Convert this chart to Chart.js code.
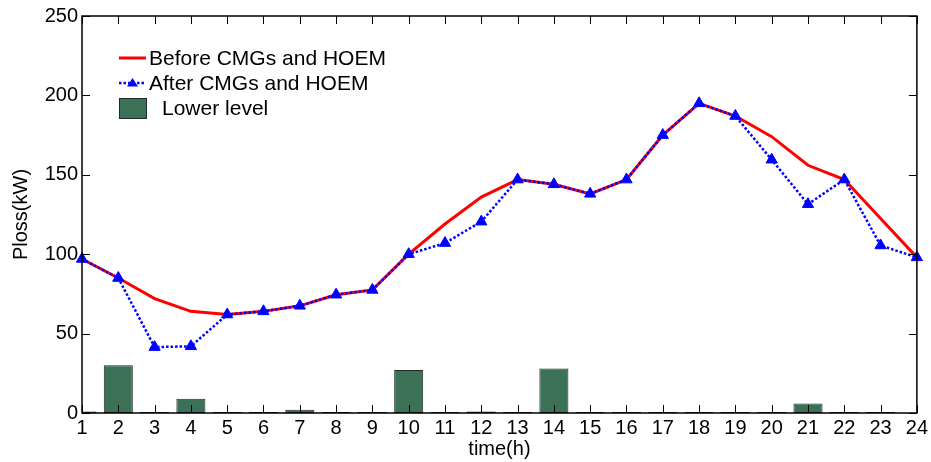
<!DOCTYPE html>
<html>
<head>
<meta charset="utf-8">
<script src="https://cdn.jsdelivr.net/npm/chart.js@4.4.1/dist/chart.umd.min.js"></script>
<style>
  html, body { margin: 0; padding: 0; background: #fff; }
  #wrap { width: 931px; height: 462px; }
</style>
</head>
<body>
<div id="wrap"><canvas id="loss-chart"></canvas></div>
<script>
var hours = ['1', '2', '3', '4', '5', '6', '7', '8', '9', '10', '11', '12', '13', '14', '15', '16', '17', '18', '19', '20', '21', '22', '23', '24'];
var beforeLoss = [97, 85, 72, 64, 62, 64, 67.5, 74.5, 77.5, 100, 119, 136, 147, 144, 138, 147, 175, 195, 187, 174, 156, 147, 122.5, 98];
var afterLoss = [97, 85, 41.5, 42, 62, 64, 67.5, 74.5, 77.5, 100, 107, 120.5, 147, 144, 138, 147, 175, 195, 187, 159.5, 131.5, 147, 105.5, 98];
var lowerLevel = [1, 30, 0.6, 9, 0.6, 0.6, 2, 0.6, 0.6, 27, 0.6, 1, 0.6, 28, 0.6, 0.6, 0.6, 0.6, 0.6, 0.6, 6, 0.6, 0.6, 0];
var yMax = 250;
var yStep = 50;

var font = 'Liberation Sans, Arial, sans-serif';

// box round the plot with inward ticks on all four sides
var frame = {
    id: 'frame',
    afterDatasetsDraw: function (chart) {
        var ctx = chart.ctx;
        var a = chart.chartArea;
        var x = chart.scales.x, y = chart.scales.y;
        var len = 8;
        ctx.save();
        ctx.strokeStyle = '#000';
        ctx.lineWidth = 1;
        ctx.beginPath();
        x.ticks.forEach(function (t, i) {
            var px = Math.round(x.getPixelForTick(i)) + 0.5;
            ctx.moveTo(px, a.bottom); ctx.lineTo(px, a.bottom - len);
            ctx.moveTo(px, a.top); ctx.lineTo(px, a.top + len);
        });
        y.ticks.forEach(function (t, i) {
            var py = Math.round(y.getPixelForTick(i)) + 0.5;
            ctx.moveTo(a.left, py); ctx.lineTo(a.left + len, py);
            ctx.moveTo(a.right, py); ctx.lineTo(a.right - len, py);
        });
        ctx.stroke();
        ctx.lineWidth = 1.5;
        ctx.strokeRect(a.left, a.top, a.right - a.left, a.bottom - a.top);
        ctx.restore();
    }
};

// legend drawn inside the plot area, top left
var innerLegend = {
    id: 'innerLegend',
    afterDraw: function (chart) {
        var ctx = chart.ctx;
        var a = chart.chartArea;
        var sets = chart.data.datasets;
        var x0 = a.left + 37, y0 = a.top + 42, row = 25;
        ctx.save();
        ctx.font = '21px ' + font;
        ctx.fillStyle = '#000';
        ctx.textBaseline = 'middle';

        // red line
        ctx.strokeStyle = sets[1].borderColor;
        ctx.lineWidth = 3;
        ctx.beginPath(); ctx.moveTo(x0, y0); ctx.lineTo(x0 + 27, y0); ctx.stroke();
        ctx.fillText(sets[1].label, x0 + 30, y0 + 1);

        // blue dotted with triangle
        var y1 = y0 + row;
        ctx.strokeStyle = sets[0].borderColor;
        ctx.lineWidth = 2.5;
        ctx.setLineDash([2.5, 2]);
        ctx.beginPath(); ctx.moveTo(x0, y1); ctx.lineTo(x0 + 27, y1); ctx.stroke();
        ctx.setLineDash([]);
        ctx.fillStyle = sets[0].pointBackgroundColor;
        ctx.beginPath();
        ctx.moveTo(x0 + 13.5, y1 - 5);
        ctx.lineTo(x0 + 19, y1 + 3.5);
        ctx.lineTo(x0 + 8, y1 + 3.5);
        ctx.closePath(); ctx.fill();
        ctx.fillStyle = '#000';
        ctx.fillText(sets[0].label, x0 + 30, y1 + 1);

        // bar box
        var y2 = y0 + 2 * row;
        ctx.fillStyle = sets[2].backgroundColor;
        ctx.fillRect(x0, y2 - 10, 27, 20);
        ctx.strokeStyle = sets[2].borderColor;
        ctx.lineWidth = 1;
        ctx.strokeRect(x0 + 0.5, y2 - 9.5, 27, 20);
        ctx.fillStyle = '#000';
        ctx.fillText(sets[2].label, x0 + 43, y2 + 1);
        ctx.restore();
    }
};

var lossChart = new Chart(document.getElementById('loss-chart'), {
    type: 'bar',
    data: {
        labels: hours,
        datasets: [{
            type: 'line',
            label: 'After CMGs and HOEM',
            data: afterLoss,
            borderColor: '#0000ff',
            borderWidth: 2.5,
            borderDash: [2.5, 2],
            pointStyle: 'triangle',
            pointRadius: 6.5,
            pointBackgroundColor: '#0000ff',
            pointBorderColor: '#0000ff',
            pointBorderWidth: 1,
            tension: 0,
            clip: false,
            order: 0
        }, {
            type: 'line',
            label: 'Before CMGs and HOEM',
            data: beforeLoss,
            borderColor: '#ff0000',
            borderWidth: 3,
            pointRadius: 0,
            tension: 0,
            clip: false,
            order: 1
        }, {
            type: 'bar',
            label: 'Lower level',
            data: lowerLevel,
            backgroundColor: '#3b7157',
            borderColor: '#1e2a24',
            borderWidth: 1,
            borderSkipped: false,
            barPercentage: 1,
            categoryPercentage: 0.8,
            clip: 0,
            order: 2
        }]
    },
    options: {
        responsive: true,
        maintainAspectRatio: false,
        animation: false,
        layout: { padding: { top: 16, right: 13, left: 0, bottom: 0 } },
        plugins: {
            legend: { display: false },
            tooltip: { enabled: false }
        },
        scales: {
            x: {
                offset: false,
                grid: { display: false, drawTicks: false },
                border: { display: false },
                ticks: { color: '#000', padding: 3, maxRotation: 0, autoSkip: false, font: { family: font, size: 20 } },
                title: { display: true, text: 'time(h)', color: '#000', padding: { top: 0, bottom: 1 }, font: { family: font, size: 20 } },
                afterFit: function (scale) { scale.height = 49; }
            },
            y: {
                min: 0,
                max: yMax,
                grid: { display: false, drawTicks: false },
                border: { display: false },
                ticks: { stepSize: yStep, color: '#000', padding: 4, font: { family: font, size: 20 } },
                title: { display: true, text: 'Ploss(kW)', color: '#000', padding: { top: 9, bottom: 0 }, font: { family: font, size: 20 } },
                afterFit: function (scale) { scale.width = 82; }
            }
        }
    },
    plugins: [frame, innerLegend]
});
</script>
</body>
</html>
